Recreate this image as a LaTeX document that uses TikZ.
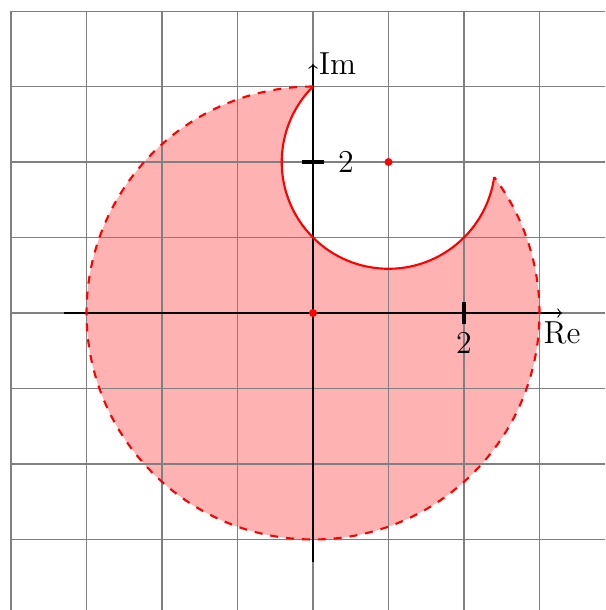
\documentclass[tikz,border=0pt]{standalone}
\begin{document}
\begin{tikzpicture}[
  font=\large,
  gridline/.style={gray, line width=0.4pt},
  axisline/.style={->, black, line width=0.4pt},
  tickmark/.style={black, line width=1.4pt},
  bound/.style={red, thick},
  dotmark/.style={circle, fill=red, inner sep=0pt, minimum size=3pt}
]
\useasboundingbox (-4.146,-3.934) rectangle (3.868,4.146);
\clip (-4.146,-3.934) rectangle (3.868,4.146);
% region
\fill[red!30] (0,3) arc[start angle=90, end angle=396.87, radius=3]
  arc[start angle=351.87, end angle=135, radius=1.41421] -- cycle;
% grid
\draw[gridline] (-4,-5) grid (5,4);
% axes
\coordinate (xs) at (-3.3,0);
\coordinate (xe) at (3.3,0);
\coordinate (ys) at (0,-3.3);
\coordinate (ye) at (0,3.3);
\draw[axisline] (xs) -- (xe) node[below, inner sep=3pt] (re) {Re};
\draw[axisline] (ys) -- (ye) node[right, inner sep=2pt] (im) {Im};
% boundary
\draw[bound, dashed] (0,3) arc[start angle=90, end angle=396.87, radius=3];
\draw[bound] (2.4,1.8) arc[start angle=351.87, end angle=135, radius=1.41421];
% ticks
\coordinate (tx1) at (2,-0.15);
\coordinate (tx2) at (2,0.15);
\coordinate (ty1) at (-0.15,2);
\coordinate (ty2) at (0.15,2);
\draw[tickmark] (tx1) -- (tx2);
\draw[tickmark] (ty1) -- (ty2);
\node[below, inner sep=3pt] (lx) at (tx1) {$2$};
\node[right, inner sep=5pt] (ly) at (ty2) {$2$};
% dots
\node[dotmark] (o) at (0,0) {};
\node[dotmark] (c) at (1,2) {};
\end{tikzpicture}
\end{document}
